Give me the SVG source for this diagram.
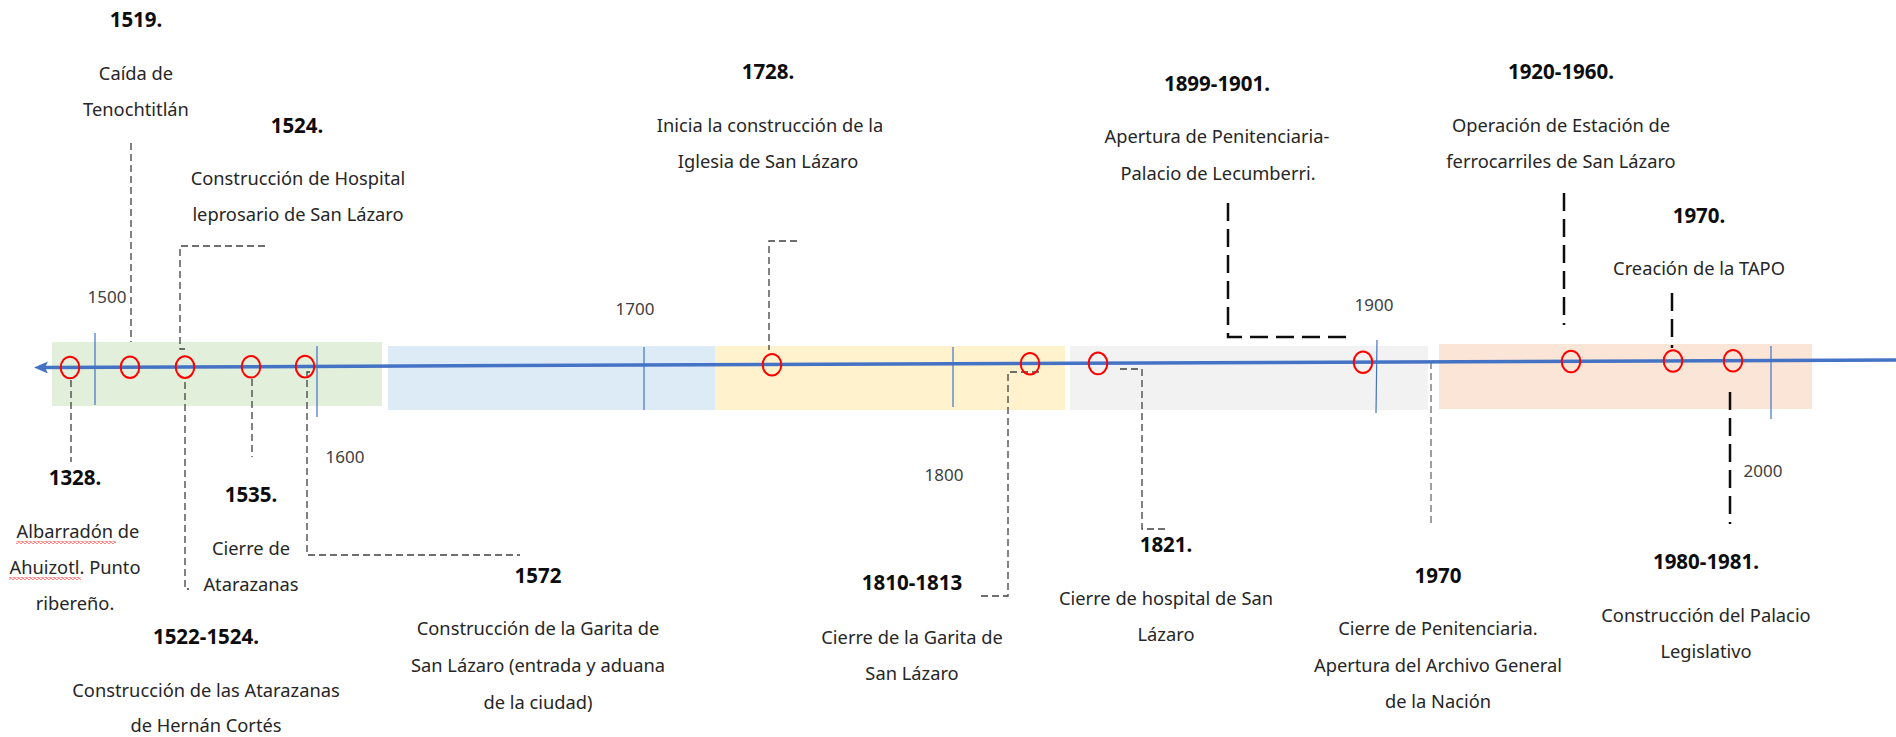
<svg xmlns="http://www.w3.org/2000/svg" width="1896" height="737" viewBox="0 0 1896 737">
<style>
text{font-family:"Noto Sans","Open Sans","DejaVu Sans",sans-serif;text-anchor:middle;fill:#262626}
.t{font-size:20.5px;font-weight:bold;fill:#0d0d0d}
.b{font-size:18.3px}
.y{font-size:17px;fill:#404040}
.thin{fill:none;stroke:#404040;stroke-width:1.3;stroke-dasharray:7 4}
.gray{fill:none;stroke:#808080;stroke-width:1.5;stroke-dasharray:7 4}
.thick{fill:none;stroke:#0d0d0d;stroke-width:2.5;stroke-dasharray:18 8}
.tick{stroke:#4472C4;stroke-width:1.2}
.c{fill:none;stroke:#FF0000;stroke-width:2}
</style>
<defs>
<marker id="ah" markerWidth="14" markerHeight="12" refX="6" refY="6" orient="auto" markerUnits="userSpaceOnUse">
<path d="M0,6 L14,0 L11,6 L14,12 Z" fill="#4472C4"/>
</marker>
<pattern id="sq" width="4" height="3" patternUnits="userSpaceOnUse">
<path d="M0,1.5 L1,0.4 L3,2.6 L4,1.5" fill="none" stroke="#FF0000" stroke-width="0.9"/>
</pattern>
</defs>
<rect width="1896" height="737" fill="#FFFFFF"/>
<g id="bands">
<rect x="52" y="342" width="330" height="64" fill="#E2EFDA"/>
<rect x="388" y="346" width="327" height="64" fill="#DDEBF7"/>
<rect x="715" y="346" width="350" height="64" fill="#FFF2CC"/>
<rect x="1070" y="346" width="358" height="64" fill="#F2F2F2"/>
<rect x="1439" y="344" width="373" height="65" fill="#FBE5D6"/>
</g>
<g id="ticks">
<line class="tick" x1="95" y1="333" x2="95" y2="405"/>
<line class="tick" x1="317" y1="346" x2="317" y2="417"/>
<line class="tick" x1="644" y1="347" x2="644" y2="410"/>
<line class="tick" x1="953" y1="347" x2="953" y2="407"/>
<line class="tick" x1="1377" y1="340" x2="1376" y2="413"/>
<line class="tick" x1="1771" y1="346" x2="1771" y2="419"/>
<text class="y" x="107" y="303">1500</text>
<text class="y" x="345" y="463">1600</text>
<text class="y" x="635" y="315">1700</text>
<text class="y" x="944" y="481">1800</text>
<text class="y" x="1374" y="311">1900</text>
<text class="y" x="1763" y="477">2000</text>
</g>
<g id="connectors">
<path class="thin" d="M71,380 V462"/>
<path class="thin" d="M131,143 V342"/>
<path class="thin" d="M265,246 H180 V349 H185"/>
<path class="thin" d="M185,382 V589 H189"/>
<path class="thin" d="M252,379 V457"/>
<path class="thin" d="M310,372 H307 V555 H520"/>
<path class="thin" d="M797,241 H769 V350"/>
<path class="thin" d="M1039,372 H1008 V596 H980"/>
<path class="thin" d="M1120,369 H1142 V529 H1166"/>
<path class="gray" d="M1431,362 V526"/>
<path class="thick" d="M1228,203 V337 H1348"/>
<path class="thick" d="M1564,193 V325"/>
<path class="thick" d="M1672,293 V348" stroke-dasharray="4 7 5 4 10 6 20"/>
<path class="thick" d="M1730,392 V524"/>
</g>
<g id="timeline">
<line x1="40" y1="367.5" x2="1896" y2="360" stroke="#4472C4" stroke-width="3.5" marker-start="url(#ah)"/>
<ellipse class="c" cx="70" cy="367.5" rx="9.3" ry="10.8"/>
<ellipse class="c" cx="130" cy="367.3" rx="9.3" ry="10.8"/>
<ellipse class="c" cx="185" cy="367.1" rx="9.3" ry="10.8"/>
<ellipse class="c" cx="251" cy="366.8" rx="9.3" ry="10.8"/>
<ellipse class="c" cx="305" cy="366.6" rx="9.3" ry="10.8"/>
<ellipse class="c" cx="772" cy="364.7" rx="9.3" ry="10.8"/>
<ellipse class="c" cx="1030" cy="363.7" rx="9.3" ry="10.8"/>
<ellipse class="c" cx="1098" cy="363.4" rx="9.3" ry="10.8"/>
<ellipse class="c" cx="1363" cy="362.3" rx="9.3" ry="10.8"/>
<ellipse class="c" cx="1571" cy="361.5" rx="9.3" ry="10.8"/>
<ellipse class="c" cx="1673" cy="361" rx="9.3" ry="10.8"/>
<ellipse class="c" cx="1733" cy="360.8" rx="9.3" ry="10.8"/>
</g>
<g id="e1328">
<text class="t" x="75" y="485">1328.</text>
<text class="b" x="78" y="538">Albarradón de</text>
<text class="b" x="75" y="574">Ahuizotl. Punto</text>
<text class="b" x="75" y="610">ribereño.</text>
<rect x="16" y="541" width="100" height="3" fill="url(#sq)"/>
<rect x="9" y="577" width="72" height="3" fill="url(#sq)"/>
</g>
<g id="e1519">
<text class="t" x="136" y="27">1519.</text>
<text class="b" x="136" y="80">Caída de</text>
<text class="b" x="136" y="116">Tenochtitlán</text>
</g>
<g id="e1524">
<text class="t" x="297" y="133">1524.</text>
<text class="b" x="298" y="185">Construcción de Hospital</text>
<text class="b" x="298" y="221">leprosario de San Lázaro</text>
</g>
<g id="e1522">
<text class="t" x="206" y="644">1522-1524.</text>
<text class="b" x="206" y="697">Construcción de las Atarazanas</text>
<text class="b" x="206" y="732">de Hernán Cortés</text>
</g>
<g id="e1535">
<text class="t" x="251" y="502">1535.</text>
<text class="b" x="251" y="555">Cierre de</text>
<text class="b" x="251" y="591">Atarazanas</text>
</g>
<g id="e1572">
<text class="t" x="538" y="583">1572</text>
<text class="b" x="538" y="635">Construcción de la Garita de</text>
<text class="b" x="538" y="672">San Lázaro (entrada y aduana</text>
<text class="b" x="538" y="709">de la ciudad)</text>
</g>
<g id="e1728">
<text class="t" x="768" y="79">1728.</text>
<text class="b" x="770" y="132">Inicia la construcción de la</text>
<text class="b" x="768" y="168">Iglesia de San Lázaro</text>
</g>
<g id="e1810">
<text class="t" x="912" y="590">1810-1813</text>
<text class="b" x="912" y="644">Cierre de la Garita de</text>
<text class="b" x="912" y="680">San Lázaro</text>
</g>
<g id="e1821">
<text class="t" x="1166" y="552">1821.</text>
<text class="b" x="1166" y="605">Cierre de hospital de San</text>
<text class="b" x="1166" y="641">Lázaro</text>
</g>
<g id="e1899">
<text class="t" x="1217" y="91">1899-1901.</text>
<text class="b" x="1217" y="143">Apertura de Penitenciaria-</text>
<text class="b" x="1218" y="180">Palacio de Lecumberri.</text>
</g>
<g id="e1920">
<text class="t" x="1561" y="79">1920-1960.</text>
<text class="b" x="1561" y="132">Operación de Estación de</text>
<text class="b" x="1561" y="168">ferrocarriles de San Lázaro</text>
</g>
<g id="e1970a">
<text class="t" x="1699" y="223">1970.</text>
<text class="b" x="1699" y="275">Creación de la TAPO</text>
</g>
<g id="e1970b">
<text class="t" x="1438" y="583">1970</text>
<text class="b" x="1438" y="635">Cierre de Penitenciaria.</text>
<text class="b" x="1438" y="672">Apertura del Archivo General</text>
<text class="b" x="1438" y="708">de la Nación</text>
</g>
<g id="e1980">
<text class="t" x="1706" y="569">1980-1981.</text>
<text class="b" x="1706" y="622">Construcción del Palacio</text>
<text class="b" x="1706" y="658">Legislativo</text>
</g>
</svg>
